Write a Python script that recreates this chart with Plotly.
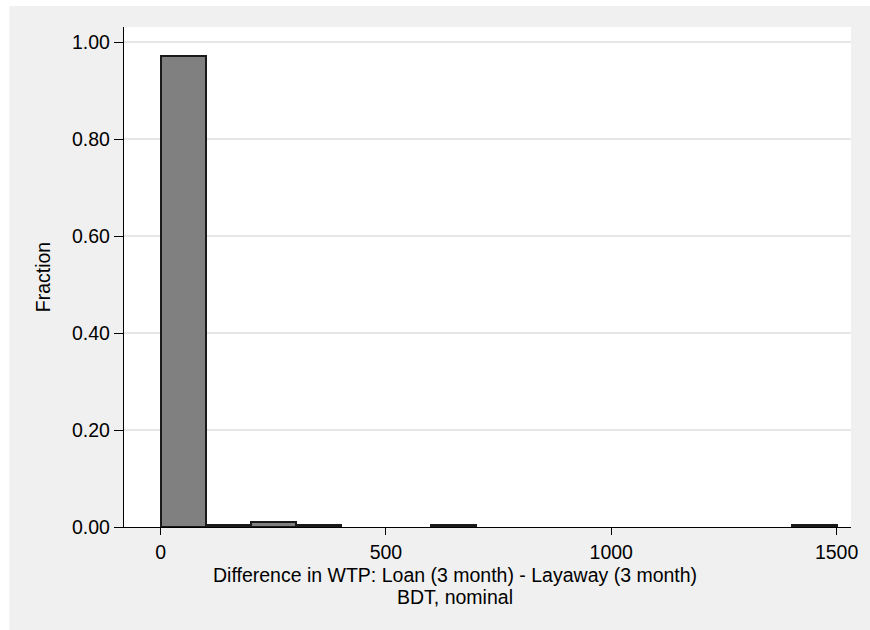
import plotly.graph_objects as go

bin_starts = [0, 100, 200, 300, 600, 1400]
fractions = [0.972, 0.0047, 0.0093, 0.0047, 0.0047, 0.0047]
y_ticks = [0.0, 0.2, 0.4, 0.6, 0.8, 1.0]
y_tick_labels = ["0.00", "0.20", "0.40", "0.60", "0.80", "1.00"]
x_ticks = [0, 500, 1000, 1500]
x_title_1 = "Difference in WTP: Loan (3 month) - Layaway (3 month)"
x_title_2 = "BDT, nominal"
y_title = "Fraction"

W, H = 870, 630
L, R, T, B = 124, 17, 27, 103
pw, ph = W - L - R, H - T - B

FONT = "Liberation Sans, Arial, sans-serif"
fs_tick = 19.5
fs_title = 19.5

fig = go.Figure()
fig.add_trace(go.Bar(
    x=bin_starts, y=fractions, width=100, offset=0,
    marker=dict(color="#808080", line=dict(color="#1a1a1a", width=2)),
    hoverinfo="x+y",
))

# white outer border strips (left and top)
fig.add_shape(type="rect", xref="paper", yref="paper",
              x0=-1, x1=(9 - L) / pw, y0=-1, y1=2,
              fillcolor="white", line=dict(width=0), layer="below")
fig.add_shape(type="rect", xref="paper", yref="paper",
              x0=-1, x1=2, y0=(H - B - 6) / ph, y1=2,
              fillcolor="white", line=dict(width=0), layer="below")

fig.update_layout(
    width=W, height=H,
    margin=dict(l=L, r=R, t=T, b=B, pad=0),
    paper_bgcolor="#f0f0f0", plot_bgcolor="white",
    font=dict(family=FONT, size=fs_tick, color="#000000"),
    showlegend=False, bargap=0,
    xaxis=dict(range=[-81.3, 1532], tickvals=x_ticks, ticktext=[str(v) for v in x_ticks],
               showgrid=False, zeroline=False, showline=True, linecolor="#000000", linewidth=1.3,
               ticks="outside", ticklen=7, tickwidth=1.3, tickcolor="#000000",
               tickfont=dict(size=fs_tick)),
    yaxis=dict(range=[0, 1.031], tickvals=y_ticks, ticktext=y_tick_labels,
               showgrid=True, gridcolor="#e6e6e6", gridwidth=1.5, zeroline=False,
               showline=True, linecolor="#000000", linewidth=1.3,
               ticks="outside", ticklen=9, tickwidth=1.3, tickcolor="#000000",
               tickfont=dict(size=fs_tick),
               title=dict(text=y_title, font=dict(size=fs_title), standoff=16)),
)

xc = 0.5 + (456 - (L + pw / 2)) / pw
fig.add_annotation(text=x_title_1, xref="paper", yref="paper", x=xc,
                   y=-(575 - (H - B)) / ph, showarrow=False, font=dict(size=fs_title), yanchor="middle")
fig.add_annotation(text=x_title_2, xref="paper", yref="paper", x=xc,
                   y=-(597 - (H - B)) / ph, showarrow=False, font=dict(size=fs_title), yanchor="middle")

fig.write_html("out.html")
